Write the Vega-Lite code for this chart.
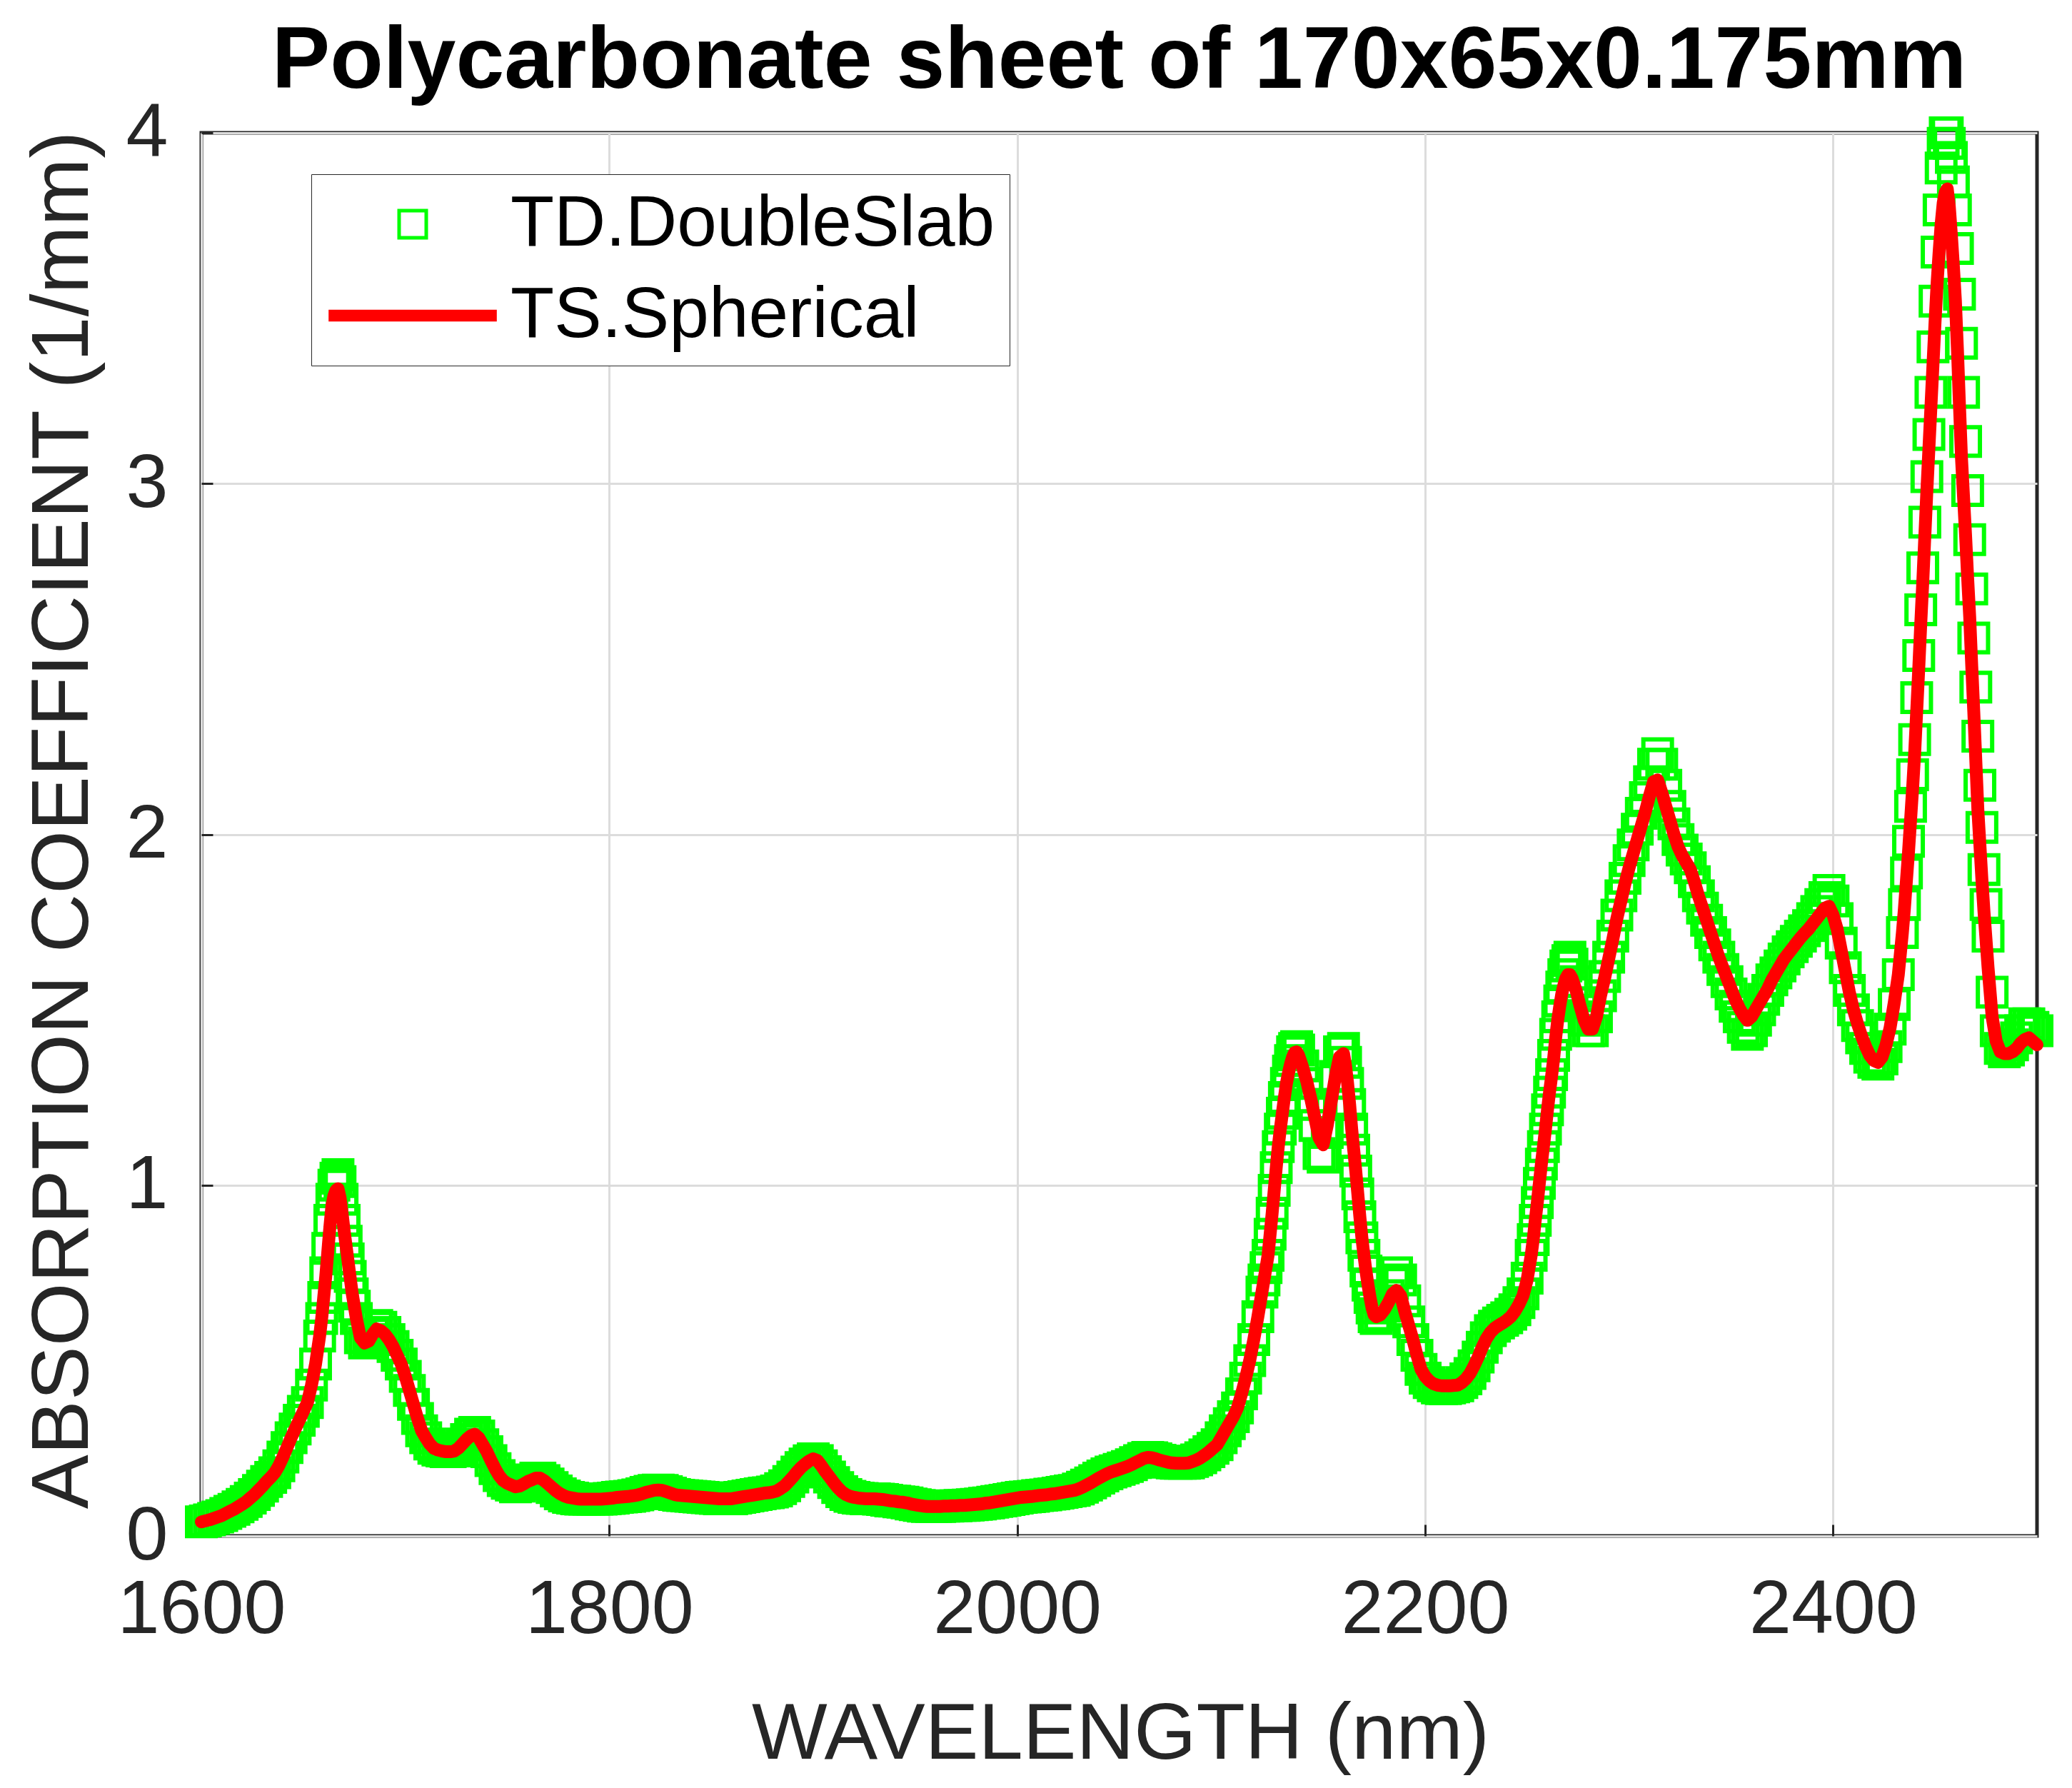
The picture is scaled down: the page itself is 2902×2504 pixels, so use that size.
{
  "$schema": "https://vega.github.io/schema/vega-lite/v6.json",
  "autosize": "none",
  "width": 2571,
  "height": 1965,
  "padding": {"left": 282, "top": 186, "right": 49, "bottom": 353},
  "background": "white",
  "title": {
    "text": "Polycarbonate sheet of 170x65x0.175mm",
    "font": "Liberation Sans",
    "fontSize": 122,
    "fontWeight": "bold",
    "color": "black",
    "anchor": "middle",
    "frame": "group",
    "baseline": "alphabetic",
    "offset": -112
  },
  "data": {
    "values": [
      {"w":1600,"td":0.04,"ts":0.04},{"w":1602,"td":0.043,"ts":0.043},{"w":1604,"td":0.046,"ts":0.046},{"w":1606,"td":0.05,"ts":0.05},
      {"w":1608,"td":0.054,"ts":0.054},{"w":1610,"td":0.058,"ts":0.058},{"w":1612,"td":0.064,"ts":0.064},{"w":1614,"td":0.07,"ts":0.07},
      {"w":1616,"td":0.076,"ts":0.076},{"w":1618,"td":0.083,"ts":0.083},{"w":1620,"td":0.09,"ts":0.09},{"w":1622,"td":0.098,"ts":0.098},
      {"w":1624,"td":0.108,"ts":0.108},{"w":1626,"td":0.118,"ts":0.118},{"w":1628,"td":0.13,"ts":0.13},{"w":1630,"td":0.142,"ts":0.142},
      {"w":1632,"td":0.155,"ts":0.155},{"w":1634,"td":0.167,"ts":0.167},{"w":1636,"td":0.18,"ts":0.18},{"w":1638,"td":0.2,"ts":0.2},
      {"w":1640,"td":0.225,"ts":0.225},{"w":1642,"td":0.252,"ts":0.252},{"w":1644,"td":0.28,"ts":0.28},{"w":1646,"td":0.305,"ts":0.305},
      {"w":1648,"td":0.33,"ts":0.33},{"w":1650,"td":0.355,"ts":0.355},{"w":1652,"td":0.38,"ts":0.38},{"w":1654,"td":0.43,"ts":0.43},
      {"w":1656,"td":0.49,"ts":0.49},{"w":1658,"td":0.57,"ts":0.57},{"w":1659,"td":0.62,"ts":0.62},{"w":1660,"td":0.68,"ts":0.68},
      {"w":1661,"td":0.75,"ts":0.74},{"w":1662,"td":0.82,"ts":0.81},{"w":1663,"td":0.9,"ts":0.88},{"w":1664,"td":0.96,"ts":0.94},
      {"w":1665,"td":1.0,"ts":0.97},{"w":1666,"td":1.02,"ts":0.985},{"w":1667,"td":1.03,"ts":0.99},{"w":1668,"td":1.01,"ts":0.965},
      {"w":1669,"td":0.96,"ts":0.92},{"w":1670,"td":0.9,"ts":0.87},{"w":1671,"td":0.84,"ts":0.825},{"w":1672,"td":0.79,"ts":0.78},
      {"w":1673,"td":0.74,"ts":0.735},{"w":1674,"td":0.69,"ts":0.69},{"w":1675,"td":0.655,"ts":0.655},{"w":1676,"td":0.62,"ts":0.62},
      {"w":1678,"td":0.565,"ts":0.565},{"w":1680,"td":0.55,"ts":0.55},{"w":1682,"td":0.555,"ts":0.555},{"w":1684,"td":0.575,"ts":0.575},
      {"w":1686,"td":0.6,"ts":0.59},{"w":1688,"td":0.595,"ts":0.585},{"w":1690,"td":0.58,"ts":0.575},{"w":1692,"td":0.56,"ts":0.56},
      {"w":1694,"td":0.54,"ts":0.54},{"w":1696,"td":0.515,"ts":0.515},{"w":1698,"td":0.49,"ts":0.49},{"w":1700,"td":0.455,"ts":0.455},
      {"w":1702,"td":0.415,"ts":0.415},{"w":1704,"td":0.375,"ts":0.375},{"w":1706,"td":0.335,"ts":0.335},{"w":1708,"td":0.3,"ts":0.3},
      {"w":1710,"td":0.28,"ts":0.28},{"w":1712,"td":0.262,"ts":0.262},{"w":1714,"td":0.25,"ts":0.25},{"w":1716,"td":0.245,"ts":0.245},
      {"w":1718,"td":0.242,"ts":0.242},{"w":1720,"td":0.24,"ts":0.24},{"w":1722,"td":0.24,"ts":0.24},{"w":1724,"td":0.242,"ts":0.242},
      {"w":1726,"td":0.25,"ts":0.25},{"w":1728,"td":0.262,"ts":0.262},{"w":1730,"td":0.275,"ts":0.275},{"w":1732,"td":0.29,"ts":0.285},
      {"w":1734,"td":0.295,"ts":0.29},{"w":1736,"td":0.285,"ts":0.28},{"w":1738,"td":0.26,"ts":0.26},{"w":1740,"td":0.24,"ts":0.24},
      {"w":1742,"td":0.215,"ts":0.215},{"w":1744,"td":0.192,"ts":0.192},{"w":1746,"td":0.172,"ts":0.172},{"w":1748,"td":0.158,"ts":0.158},
      {"w":1750,"td":0.15,"ts":0.15},{"w":1752,"td":0.145,"ts":0.145},{"w":1754,"td":0.14,"ts":0.14},{"w":1756,"td":0.142,"ts":0.142},
      {"w":1758,"td":0.148,"ts":0.148},{"w":1760,"td":0.155,"ts":0.155},{"w":1762,"td":0.16,"ts":0.16},{"w":1764,"td":0.165,"ts":0.165},
      {"w":1766,"td":0.165,"ts":0.165},{"w":1768,"td":0.158,"ts":0.158},{"w":1770,"td":0.148,"ts":0.148},{"w":1772,"td":0.138,"ts":0.138},
      {"w":1774,"td":0.128,"ts":0.128},{"w":1776,"td":0.12,"ts":0.12},{"w":1778,"td":0.114,"ts":0.114},{"w":1780,"td":0.11,"ts":0.11},
      {"w":1782,"td":0.108,"ts":0.108},{"w":1784,"td":0.106,"ts":0.106},{"w":1786,"td":0.105,"ts":0.105},{"w":1788,"td":0.105,"ts":0.105},
      {"w":1790,"td":0.105,"ts":0.105},{"w":1792,"td":0.105,"ts":0.105},{"w":1794,"td":0.105,"ts":0.105},{"w":1796,"td":0.105,"ts":0.105},
      {"w":1798,"td":0.106,"ts":0.106},{"w":1800,"td":0.107,"ts":0.107},{"w":1802,"td":0.108,"ts":0.108},{"w":1804,"td":0.11,"ts":0.11},
      {"w":1806,"td":0.111,"ts":0.111},{"w":1808,"td":0.112,"ts":0.112},{"w":1810,"td":0.113,"ts":0.113},{"w":1812,"td":0.115,"ts":0.115},
      {"w":1814,"td":0.117,"ts":0.117},{"w":1816,"td":0.12,"ts":0.12},{"w":1818,"td":0.124,"ts":0.124},{"w":1820,"td":0.127,"ts":0.127},
      {"w":1822,"td":0.13,"ts":0.13},{"w":1824,"td":0.131,"ts":0.131},{"w":1826,"td":0.13,"ts":0.13},{"w":1828,"td":0.126,"ts":0.126},
      {"w":1830,"td":0.122,"ts":0.122},{"w":1832,"td":0.118,"ts":0.118},{"w":1834,"td":0.116,"ts":0.116},{"w":1836,"td":0.115,"ts":0.115},
      {"w":1838,"td":0.114,"ts":0.114},{"w":1840,"td":0.113,"ts":0.113},{"w":1842,"td":0.112,"ts":0.112},{"w":1844,"td":0.111,"ts":0.111},
      {"w":1846,"td":0.11,"ts":0.11},{"w":1848,"td":0.109,"ts":0.109},{"w":1850,"td":0.108,"ts":0.108},{"w":1852,"td":0.107,"ts":0.107},
      {"w":1854,"td":0.106,"ts":0.106},{"w":1856,"td":0.106,"ts":0.106},{"w":1858,"td":0.106,"ts":0.106},{"w":1860,"td":0.106,"ts":0.106},
      {"w":1862,"td":0.108,"ts":0.108},{"w":1864,"td":0.11,"ts":0.11},{"w":1866,"td":0.112,"ts":0.112},{"w":1868,"td":0.114,"ts":0.114},
      {"w":1870,"td":0.116,"ts":0.116},{"w":1872,"td":0.118,"ts":0.118},{"w":1874,"td":0.12,"ts":0.12},{"w":1876,"td":0.122,"ts":0.122},
      {"w":1878,"td":0.123,"ts":0.123},{"w":1880,"td":0.125,"ts":0.125},{"w":1882,"td":0.128,"ts":0.128},{"w":1884,"td":0.135,"ts":0.135},
      {"w":1886,"td":0.143,"ts":0.143},{"w":1888,"td":0.155,"ts":0.155},{"w":1890,"td":0.168,"ts":0.168},{"w":1892,"td":0.182,"ts":0.182},
      {"w":1894,"td":0.195,"ts":0.195},{"w":1896,"td":0.205,"ts":0.205},{"w":1898,"td":0.214,"ts":0.214},{"w":1900,"td":0.22,"ts":0.22},
      {"w":1902,"td":0.215,"ts":0.215},{"w":1904,"td":0.2,"ts":0.2},{"w":1906,"td":0.183,"ts":0.183},{"w":1908,"td":0.168,"ts":0.168},
      {"w":1910,"td":0.152,"ts":0.152},{"w":1912,"td":0.138,"ts":0.138},{"w":1914,"td":0.126,"ts":0.126},{"w":1916,"td":0.118,"ts":0.118},
      {"w":1918,"td":0.113,"ts":0.113},{"w":1920,"td":0.11,"ts":0.11},{"w":1922,"td":0.108,"ts":0.108},{"w":1924,"td":0.107,"ts":0.107},
      {"w":1926,"td":0.106,"ts":0.106},{"w":1928,"td":0.106,"ts":0.106},{"w":1930,"td":0.106,"ts":0.106},{"w":1932,"td":0.105,"ts":0.105},
      {"w":1934,"td":0.104,"ts":0.104},{"w":1936,"td":0.102,"ts":0.102},{"w":1938,"td":0.1,"ts":0.1},{"w":1940,"td":0.099,"ts":0.099},
      {"w":1942,"td":0.097,"ts":0.097},{"w":1944,"td":0.096,"ts":0.096},{"w":1946,"td":0.094,"ts":0.094},{"w":1948,"td":0.091,"ts":0.091},
      {"w":1950,"td":0.089,"ts":0.089},{"w":1952,"td":0.087,"ts":0.087},{"w":1954,"td":0.085,"ts":0.085},{"w":1956,"td":0.084,"ts":0.084},
      {"w":1958,"td":0.084,"ts":0.084},{"w":1960,"td":0.084,"ts":0.084},{"w":1962,"td":0.084,"ts":0.084},{"w":1964,"td":0.085,"ts":0.085},
      {"w":1966,"td":0.085,"ts":0.085},{"w":1968,"td":0.086,"ts":0.086},{"w":1970,"td":0.086,"ts":0.086},{"w":1972,"td":0.087,"ts":0.087},
      {"w":1974,"td":0.087,"ts":0.087},{"w":1976,"td":0.088,"ts":0.088},{"w":1978,"td":0.089,"ts":0.089},{"w":1980,"td":0.09,"ts":0.09},
      {"w":1982,"td":0.091,"ts":0.091},{"w":1984,"td":0.093,"ts":0.093},{"w":1986,"td":0.094,"ts":0.094},{"w":1988,"td":0.096,"ts":0.096},
      {"w":1990,"td":0.098,"ts":0.098},{"w":1992,"td":0.1,"ts":0.1},{"w":1994,"td":0.102,"ts":0.102},{"w":1996,"td":0.104,"ts":0.104},
      {"w":1998,"td":0.106,"ts":0.106},{"w":2000,"td":0.108,"ts":0.108},{"w":2002,"td":0.11,"ts":0.11},{"w":2004,"td":0.111,"ts":0.111},
      {"w":2006,"td":0.112,"ts":0.112},{"w":2008,"td":0.113,"ts":0.113},{"w":2010,"td":0.115,"ts":0.115},{"w":2012,"td":0.116,"ts":0.116},
      {"w":2014,"td":0.117,"ts":0.117},{"w":2016,"td":0.119,"ts":0.119},{"w":2018,"td":0.12,"ts":0.12},{"w":2020,"td":0.122,"ts":0.122},
      {"w":2022,"td":0.124,"ts":0.124},{"w":2024,"td":0.126,"ts":0.126},{"w":2026,"td":0.128,"ts":0.128},{"w":2028,"td":0.13,"ts":0.13},
      {"w":2030,"td":0.134,"ts":0.134},{"w":2032,"td":0.139,"ts":0.139},{"w":2034,"td":0.145,"ts":0.145},{"w":2036,"td":0.151,"ts":0.151},
      {"w":2038,"td":0.158,"ts":0.158},{"w":2040,"td":0.165,"ts":0.165},{"w":2042,"td":0.171,"ts":0.171},{"w":2044,"td":0.177,"ts":0.177},
      {"w":2046,"td":0.182,"ts":0.182},{"w":2048,"td":0.186,"ts":0.186},{"w":2050,"td":0.19,"ts":0.19},{"w":2052,"td":0.194,"ts":0.194},
      {"w":2054,"td":0.198,"ts":0.198},{"w":2056,"td":0.203,"ts":0.203},{"w":2058,"td":0.209,"ts":0.209},{"w":2060,"td":0.215,"ts":0.215},
      {"w":2062,"td":0.221,"ts":0.221},{"w":2064,"td":0.224,"ts":0.224},{"w":2066,"td":0.223,"ts":0.223},{"w":2068,"td":0.22,"ts":0.22},
      {"w":2070,"td":0.216,"ts":0.216},{"w":2072,"td":0.213,"ts":0.213},{"w":2074,"td":0.21,"ts":0.21},{"w":2076,"td":0.208,"ts":0.208},
      {"w":2078,"td":0.207,"ts":0.207},{"w":2080,"td":0.207,"ts":0.207},{"w":2082,"td":0.207,"ts":0.207},{"w":2084,"td":0.208,"ts":0.208},
      {"w":2086,"td":0.212,"ts":0.212},{"w":2088,"td":0.217,"ts":0.217},{"w":2090,"td":0.223,"ts":0.223},{"w":2092,"td":0.231,"ts":0.231},
      {"w":2094,"td":0.24,"ts":0.24},{"w":2096,"td":0.25,"ts":0.25},{"w":2098,"td":0.26,"ts":0.26},{"w":2100,"td":0.28,"ts":0.28},
      {"w":2102,"td":0.3,"ts":0.3},{"w":2104,"td":0.32,"ts":0.32},{"w":2106,"td":0.34,"ts":0.34},{"w":2108,"td":0.365,"ts":0.365},
      {"w":2110,"td":0.405,"ts":0.405},{"w":2112,"td":0.45,"ts":0.45},{"w":2114,"td":0.5,"ts":0.5},{"w":2116,"td":0.56,"ts":0.56},
      {"w":2118,"td":0.625,"ts":0.625},{"w":2120,"td":0.695,"ts":0.695},{"w":2121,"td":0.73,"ts":0.73},{"w":2122,"td":0.765,"ts":0.765},
      {"w":2123,"td":0.8,"ts":0.8},{"w":2124,"td":0.86,"ts":0.86},{"w":2125,"td":0.92,"ts":0.92},{"w":2126,"td":0.985,"ts":0.985},
      {"w":2127,"td":1.05,"ts":1.05},{"w":2128,"td":1.11,"ts":1.11},{"w":2129,"td":1.16,"ts":1.16},{"w":2130,"td":1.205,"ts":1.205},
      {"w":2131,"td":1.25,"ts":1.25},{"w":2132,"td":1.29,"ts":1.29},{"w":2133,"td":1.325,"ts":1.32},{"w":2134,"td":1.355,"ts":1.345},
      {"w":2135,"td":1.38,"ts":1.365},{"w":2136,"td":1.39,"ts":1.378},{"w":2137,"td":1.395,"ts":1.38},{"w":2138,"td":1.385,"ts":1.37},
      {"w":2140,"td":1.34,"ts":1.335},{"w":2142,"td":1.29,"ts":1.295},{"w":2144,"td":1.23,"ts":1.245},{"w":2146,"td":1.17,"ts":1.19},
      {"w":2148,"td":1.09,"ts":1.135},{"w":2150,"td":1.08,"ts":1.115},{"w":2152,"td":1.15,"ts":1.17},{"w":2154,"td":1.23,"ts":1.24},
      {"w":2156,"td":1.31,"ts":1.31},{"w":2158,"td":1.38,"ts":1.365},{"w":2160,"td":1.39,"ts":1.375},{"w":2161,"td":1.35,"ts":1.34},
      {"w":2162,"td":1.29,"ts":1.29},{"w":2163,"td":1.23,"ts":1.23},{"w":2164,"td":1.16,"ts":1.16},{"w":2165,"td":1.1,"ts":1.1},
      {"w":2166,"td":1.04,"ts":1.04},{"w":2167,"td":0.975,"ts":0.975},{"w":2168,"td":0.91,"ts":0.91},{"w":2169,"td":0.85,"ts":0.85},
      {"w":2170,"td":0.8,"ts":0.8},{"w":2171,"td":0.755,"ts":0.755},{"w":2172,"td":0.715,"ts":0.715},{"w":2173,"td":0.68,"ts":0.68},
      {"w":2174,"td":0.65,"ts":0.65},{"w":2175,"td":0.625,"ts":0.63},{"w":2176,"td":0.62,"ts":0.625},{"w":2178,"td":0.63,"ts":0.63},
      {"w":2180,"td":0.655,"ts":0.645},{"w":2182,"td":0.685,"ts":0.665},{"w":2184,"td":0.72,"ts":0.69},{"w":2186,"td":0.75,"ts":0.7},
      {"w":2188,"td":0.73,"ts":0.685},{"w":2190,"td":0.67,"ts":0.64},{"w":2192,"td":0.61,"ts":0.6},{"w":2194,"td":0.56,"ts":0.56},
      {"w":2196,"td":0.515,"ts":0.515},{"w":2198,"td":0.475,"ts":0.475},{"w":2200,"td":0.45,"ts":0.455},{"w":2202,"td":0.437,"ts":0.442},
      {"w":2204,"td":0.428,"ts":0.434},{"w":2206,"td":0.422,"ts":0.43},{"w":2208,"td":0.42,"ts":0.428},{"w":2210,"td":0.42,"ts":0.428},
      {"w":2212,"td":0.422,"ts":0.428},{"w":2214,"td":0.425,"ts":0.429},{"w":2216,"td":0.428,"ts":0.43},{"w":2218,"td":0.437,"ts":0.437},
      {"w":2220,"td":0.448,"ts":0.448},{"w":2222,"td":0.463,"ts":0.463},{"w":2224,"td":0.485,"ts":0.485},{"w":2226,"td":0.51,"ts":0.51},
      {"w":2228,"td":0.538,"ts":0.538},{"w":2230,"td":0.565,"ts":0.562},{"w":2232,"td":0.585,"ts":0.58},{"w":2234,"td":0.598,"ts":0.592},
      {"w":2236,"td":0.607,"ts":0.6},{"w":2238,"td":0.615,"ts":0.607},{"w":2240,"td":0.622,"ts":0.615},{"w":2242,"td":0.632,"ts":0.625},
      {"w":2244,"td":0.645,"ts":0.64},{"w":2246,"td":0.665,"ts":0.66},{"w":2248,"td":0.69,"ts":0.685},{"w":2250,"td":0.735,"ts":0.73},
      {"w":2252,"td":0.8,"ts":0.8},{"w":2253,"td":0.845,"ts":0.845},{"w":2254,"td":0.9,"ts":0.9},{"w":2255,"td":0.95,"ts":0.95},
      {"w":2256,"td":1.005,"ts":1.005},{"w":2257,"td":1.06,"ts":1.06},{"w":2258,"td":1.11,"ts":1.11},{"w":2259,"td":1.16,"ts":1.16},
      {"w":2260,"td":1.215,"ts":1.215},{"w":2261,"td":1.265,"ts":1.265},{"w":2262,"td":1.315,"ts":1.31},{"w":2263,"td":1.37,"ts":1.36},
      {"w":2264,"td":1.43,"ts":1.42},{"w":2265,"td":1.48,"ts":1.47},{"w":2266,"td":1.525,"ts":1.51},{"w":2267,"td":1.565,"ts":1.545},
      {"w":2268,"td":1.6,"ts":1.57},{"w":2269,"td":1.625,"ts":1.59},{"w":2270,"td":1.64,"ts":1.6},{"w":2271,"td":1.65,"ts":1.6},
      {"w":2272,"td":1.63,"ts":1.59},{"w":2274,"td":1.58,"ts":1.555},{"w":2276,"td":1.52,"ts":1.51},{"w":2278,"td":1.47,"ts":1.47},
      {"w":2280,"td":1.44,"ts":1.445},{"w":2282,"td":1.44,"ts":1.445},{"w":2284,"td":1.48,"ts":1.48},{"w":2286,"td":1.54,"ts":1.54},
      {"w":2288,"td":1.595,"ts":1.59},{"w":2290,"td":1.65,"ts":1.645},{"w":2292,"td":1.71,"ts":1.7},{"w":2294,"td":1.77,"ts":1.76},
      {"w":2296,"td":1.825,"ts":1.81},{"w":2298,"td":1.875,"ts":1.86},{"w":2300,"td":1.925,"ts":1.905},{"w":2302,"td":1.97,"ts":1.945},
      {"w":2304,"td":2.015,"ts":1.985},{"w":2306,"td":2.06,"ts":2.025},{"w":2308,"td":2.105,"ts":2.065},{"w":2310,"td":2.15,"ts":2.11},
      {"w":2312,"td":2.2,"ts":2.15},{"w":2314,"td":2.23,"ts":2.155},{"w":2316,"td":2.2,"ts":2.12},{"w":2318,"td":2.14,"ts":2.08},
      {"w":2320,"td":2.08,"ts":2.04},{"w":2322,"td":2.03,"ts":2.0},{"w":2324,"td":1.985,"ts":1.965},{"w":2326,"td":1.955,"ts":1.94},
      {"w":2328,"td":1.93,"ts":1.92},{"w":2330,"td":1.905,"ts":1.9},{"w":2332,"td":1.865,"ts":1.865},{"w":2334,"td":1.825,"ts":1.825},
      {"w":2336,"td":1.79,"ts":1.79},{"w":2338,"td":1.755,"ts":1.755},{"w":2340,"td":1.72,"ts":1.72},{"w":2342,"td":1.685,"ts":1.685},
      {"w":2344,"td":1.65,"ts":1.65},{"w":2346,"td":1.615,"ts":1.62},{"w":2348,"td":1.58,"ts":1.59},{"w":2350,"td":1.545,"ts":1.56},
      {"w":2352,"td":1.51,"ts":1.53},{"w":2354,"td":1.48,"ts":1.505},{"w":2356,"td":1.45,"ts":1.485},{"w":2358,"td":1.43,"ts":1.47},
      {"w":2360,"td":1.44,"ts":1.48},{"w":2362,"td":1.47,"ts":1.5},{"w":2364,"td":1.5,"ts":1.52},{"w":2366,"td":1.53,"ts":1.54},
      {"w":2368,"td":1.555,"ts":1.56},{"w":2370,"td":1.585,"ts":1.585},{"w":2372,"td":1.605,"ts":1.605},{"w":2374,"td":1.625,"ts":1.625},
      {"w":2376,"td":1.645,"ts":1.645},{"w":2378,"td":1.665,"ts":1.66},{"w":2380,"td":1.68,"ts":1.675},{"w":2382,"td":1.695,"ts":1.69},
      {"w":2384,"td":1.71,"ts":1.705},{"w":2386,"td":1.725,"ts":1.718},{"w":2388,"td":1.74,"ts":1.73},{"w":2390,"td":1.76,"ts":1.745},
      {"w":2392,"td":1.78,"ts":1.76},{"w":2394,"td":1.8,"ts":1.775},{"w":2396,"td":1.82,"ts":1.79},{"w":2398,"td":1.84,"ts":1.795},
      {"w":2400,"td":1.81,"ts":1.77},{"w":2402,"td":1.76,"ts":1.73},{"w":2404,"td":1.69,"ts":1.67},{"w":2406,"td":1.62,"ts":1.61},
      {"w":2408,"td":1.555,"ts":1.55},{"w":2410,"td":1.5,"ts":1.5},{"w":2412,"td":1.455,"ts":1.46},{"w":2414,"td":1.42,"ts":1.425},
      {"w":2416,"td":1.39,"ts":1.395},{"w":2418,"td":1.365,"ts":1.37},{"w":2420,"td":1.35,"ts":1.355},{"w":2422,"td":1.345,"ts":1.35},
      {"w":2424,"td":1.36,"ts":1.365},{"w":2426,"td":1.395,"ts":1.4},{"w":2428,"td":1.445,"ts":1.45},{"w":2430,"td":1.515,"ts":1.52},
      {"w":2432,"td":1.6,"ts":1.6},{"w":2434,"td":1.72,"ts":1.72},{"w":2435,"td":1.8,"ts":1.79},{"w":2436,"td":1.89,"ts":1.87},
      {"w":2437,"td":1.98,"ts":1.95},{"w":2438,"td":2.08,"ts":2.04},{"w":2439,"td":2.17,"ts":2.13},{"w":2440,"td":2.27,"ts":2.23},
      {"w":2441,"td":2.39,"ts":2.35},{"w":2442,"td":2.51,"ts":2.47},{"w":2443,"td":2.64,"ts":2.6},{"w":2444,"td":2.76,"ts":2.72},
      {"w":2445,"td":2.89,"ts":2.85},{"w":2446,"td":3.02,"ts":2.98},{"w":2447,"td":3.14,"ts":3.1},{"w":2448,"td":3.26,"ts":3.22},
      {"w":2449,"td":3.39,"ts":3.34},{"w":2450,"td":3.52,"ts":3.46},{"w":2451,"td":3.66,"ts":3.57},{"w":2452,"td":3.78,"ts":3.66},
      {"w":2453,"td":3.9,"ts":3.74},{"w":2454,"td":3.97,"ts":3.8},{"w":2455,"td":4.0,"ts":3.83},{"w":2456,"td":4.0,"ts":3.84},
      {"w":2457,"td":3.97,"ts":3.79},{"w":2458,"td":3.93,"ts":3.71},{"w":2459,"td":3.86,"ts":3.62},{"w":2460,"td":3.78,"ts":3.52},
      {"w":2461,"td":3.67,"ts":3.38},{"w":2462,"td":3.54,"ts":3.22},{"w":2463,"td":3.4,"ts":3.07},{"w":2464,"td":3.26,"ts":2.96},
      {"w":2465,"td":3.12,"ts":2.85},{"w":2466,"td":2.98,"ts":2.73},{"w":2467,"td":2.84,"ts":2.62},{"w":2468,"td":2.7,"ts":2.48},
      {"w":2469,"td":2.56,"ts":2.35},{"w":2470,"td":2.42,"ts":2.21},{"w":2471,"td":2.28,"ts":2.07},{"w":2472,"td":2.14,"ts":1.97},
      {"w":2473,"td":2.02,"ts":1.87},{"w":2474,"td":1.9,"ts":1.78},{"w":2475,"td":1.8,"ts":1.7},{"w":2476,"td":1.71,"ts":1.62},
      {"w":2478,"td":1.55,"ts":1.48},{"w":2480,"td":1.44,"ts":1.41},{"w":2482,"td":1.39,"ts":1.38},{"w":2484,"td":1.38,"ts":1.375},
      {"w":2486,"td":1.385,"ts":1.375},{"w":2488,"td":1.4,"ts":1.38},{"w":2490,"td":1.42,"ts":1.39},{"w":2492,"td":1.44,"ts":1.405},
      {"w":2494,"td":1.46,"ts":1.415},{"w":2496,"td":1.46,"ts":1.42},{"w":2498,"td":1.45,"ts":1.41},{"w":2500,"td":1.44,"ts":1.4}
    ]
  },
  "transform": [{"fold": ["td", "ts"], "as": ["series", "value"]}],
  "encoding": {
    "x": {
      "field": "w",
      "type": "quantitative",
      "scale": {"domain": [1600, 2500], "nice": false, "zero": false},
      "axis": {
        "title": "WAVELENGTH (nm)",
        "values": [1600, 1800, 2000, 2200, 2400],
        "format": "d",
        "grid": true,
        "gridColor": "#dcdcdc",
        "gridWidth": 3,
        "domain": false,
        "ticks": true,
        "tickSize": -16,
        "tickWidth": 3,
        "tickColor": "#262626",
        "labelFont": "Liberation Sans",
        "labelFontSize": 106,
        "labelColor": "#262626",
        "labelPadding": 67,
        "labelLimit": 1000,
        "labelFlush": false,
        "labelOverlap": false,
        "titleFont": "Liberation Sans",
        "titleFontSize": 112,
        "titleFontWeight": "normal",
        "titleColor": "#262626",
        "titleAlign": "center",
        "titleBaseline": "alphabetic",
        "titleX": 1287,
        "titleY": 311
      }
    },
    "y": {
      "field": "value",
      "type": "quantitative",
      "scale": {"domain": [0, 4], "nice": false},
      "axis": {
        "title": "ABSORPTION COEFFICIENT (1/mm)",
        "values": [0, 1, 2, 3, 4],
        "format": "d",
        "grid": true,
        "gridColor": "#dcdcdc",
        "gridWidth": 3,
        "domain": false,
        "ticks": true,
        "tickSize": -16,
        "tickWidth": 3,
        "tickColor": "#262626",
        "labelFont": "Liberation Sans",
        "labelFontSize": 106,
        "labelColor": "#262626",
        "labelPadding": 63,
        "labelLimit": 1000,
        "labelFlush": false,
        "labelOverlap": false,
        "titleFont": "Liberation Sans",
        "titleFontSize": 114,
        "titleFontWeight": "normal",
        "titleColor": "#262626",
        "titleAngle": 270,
        "titleAlign": "center",
        "titleBaseline": "alphabetic",
        "titleX": -160,
        "titleY": 962
      }
    }
  },
  "layer": [
    {
      "transform": [{"filter": "datum.series === 'td'"}],
      "mark": {"type": "point", "filled": false, "size": 1600, "strokeWidth": 6, "opacity": 1},
      "encoding": {
        "color": {
          "field": "series",
          "type": "nominal",
          "scale": {"domain": ["td", "ts"], "range": ["#00ff00", "#ff0000"]},
          "legend": {
            "title": null,
            "orient": "none",
            "legendX": 154,
            "legendY": 58,
            "padding": 20,
            "fillColor": "white",
            "strokeColor": "#262626",
            "symbolSize": 1444,
            "symbolStrokeWidth": 5,
            "symbolFillColor": "transparent",
            "symbolOffset": 72,
            "labelOffset": 87,
            "labelFont": "Liberation Sans",
            "labelFontSize": 100,
            "labelColor": "black",
            "labelLimit": 1000,
            "rowPadding": 28,
            "labelExpr": "datum.label === 'td' ? 'TD.DoubleSlab' : 'TS.Spherical'",
            "encode": {"legend": {"update": {"strokeWidth": {"value": 3}}}}
          }
        },
        "shape": {
          "field": "series",
          "type": "nominal",
          "scale": {"domain": ["td", "ts"], "range": ["square", "M-6.2,-0.3L6.2,-0.3M-6.2,-0.15L6.2,-0.15M-6.2,0L6.2,0M-6.2,0.15L6.2,0.15M-6.2,0.3L6.2,0.3"]},
          "legend": {
            "title": null,
            "orient": "none",
            "legendX": 154,
            "legendY": 58,
            "padding": 20,
            "fillColor": "white",
            "strokeColor": "#262626",
            "symbolSize": 1444,
            "symbolStrokeWidth": 5,
            "symbolFillColor": "transparent",
            "symbolOffset": 72,
            "labelOffset": 87,
            "labelFont": "Liberation Sans",
            "labelFontSize": 100,
            "labelColor": "black",
            "labelLimit": 1000,
            "rowPadding": 28,
            "labelExpr": "datum.label === 'td' ? 'TD.DoubleSlab' : 'TS.Spherical'",
            "encode": {"legend": {"update": {"strokeWidth": {"value": 3}}}}
          }
        }
      }
    },
    {
      "transform": [{"filter": "datum.series === 'ts'"}],
      "mark": {"type": "line", "strokeWidth": 18, "strokeJoin": "round", "strokeCap": "round"},
      "encoding": {
        "color": {"field": "series", "type": "nominal"}
      }
    }
  ],
  "config": {
    "font": "Liberation Sans",
    "view": {"stroke": "#262626", "strokeWidth": 5}
  }
}
